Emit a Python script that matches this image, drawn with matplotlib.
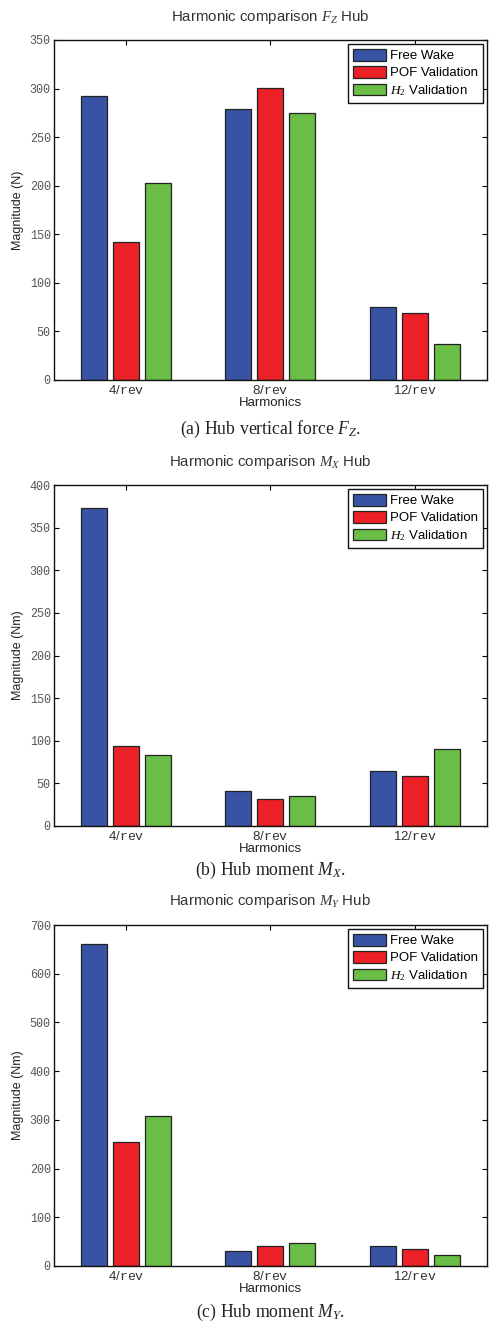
"""Harmonic comparison of hub loads: three stacked grouped-bar panels."""

import numpy as np
import matplotlib.pyplot as plt

harmonics = ["4/$\\mathtt{rev}$", "8/$\\mathtt{rev}$", "12/$\\mathtt{rev}$"]
series_names = ["Free Wake", "POF Validation", "$H_2$ Validation"]

fz_free_wake = [292, 279, 75]
fz_pof = [142, 301, 69]
fz_h2 = [203, 275, 37]

mx_free_wake = [373, 41, 65]
mx_pof = [94, 32, 59]
mx_h2 = [83, 35, 90]

my_free_wake = [661, 31, 41]
my_pof = [255, 42, 34]
my_h2 = [308, 48, 23]

panels = [
    ("$F_Z$", "Magnitude (N)", 350, 50, "(a) Hub vertical force $F_Z$.",
     [fz_free_wake, fz_pof, fz_h2]),
    ("$M_X$", "Magnitude (Nm)", 400, 50, "(b) Hub moment $M_X$.",
     [mx_free_wake, mx_pof, mx_h2]),
    ("$M_Y$", "Magnitude (Nm)", 700, 100, "(c) Hub moment $M_Y$.",
     [my_free_wake, my_pof, my_h2]),
]

colors = ["#3953a4", "#ec2027", "#6abd45"]

plt.rcParams["font.family"] = ["Liberation Sans", "DejaVu Sans"]
plt.rcParams["mathtext.fontset"] = "custom"
plt.rcParams["mathtext.rm"] = "Liberation Serif"
plt.rcParams["mathtext.it"] = "Liberation Serif:italic"
plt.rcParams["mathtext.tt"] = "Liberation Mono"

W, H = 490, 1322
fig = plt.figure(figsize=(W / 100, H / 100), dpi=100)

# axes pixel boxes (top, bottom) and text rows
ax_left, ax_right = 53.5, 487
boxes = [(40, 380), (485, 826), (925, 1266)]
title_y = [17, 462, 901]
caption_y = [429, 870, 1312]

x = np.arange(1, len(harmonics) + 1)
offsets = [-0.22, 0.0, 0.22]
bar_w = 0.18

for (sym, ylabel, ymax, ystep, caption, values), (top, bot), ty, cy in zip(
    panels, boxes, title_y, caption_y
):
    ax = fig.add_axes([
        ax_left / W, 1 - bot / H, (ax_right - ax_left) / W, (bot - top) / H
    ])
    for vals, name, color, off in zip(values, series_names, colors, offsets):
        ax.bar(x + off, vals, bar_w, color=color, edgecolor="#222222",
               linewidth=0.9, label=name, zorder=2)

    ax.set_xlim(0.5, 3.5)
    ax.set_ylim(0, ymax)
    ax.set_xticks(x)
    ax.set_xticklabels(harmonics, fontsize=9.5, color="#333333")
    ax.set_yticks(np.arange(0, ymax + 1, ystep))
    ax.set_yticklabels([str(v) for v in np.arange(0, ymax + 1, ystep)],
                       family="Liberation Mono", fontsize=8.5, color="#555555")
    ax.tick_params(direction="in", top=True, right=True, length=3.5, width=0.8, pad=3)
    ax.tick_params(axis="y", pad=2)
    for spine in ax.spines.values():
        spine.set_linewidth(1.0)
        spine.set_color("#111111")

    ax.set_xlabel("Harmonics", fontsize=9.5, color="#222222", labelpad=0)
    ax.set_ylabel(ylabel, fontsize=9, color="#222222", labelpad=4)

    leg = ax.legend(loc="upper right", fontsize=9.5, handlelength=2.5,
                    handleheight=0.95, handletextpad=0.3, borderpad=0.4,
                    labelspacing=0.28, borderaxespad=0.3, fancybox=False,
                    framealpha=1)
    leg.get_frame().set_edgecolor("#111111")
    leg.get_frame().set_linewidth(1.0)

    fig.text((ax_left + ax_right) / 2 / W, 1 - ty / H,
             f"Harmonic comparison {sym} Hub", ha="center", va="center",
             fontsize=10.8, color="#333333")
    fig.text((ax_left + ax_right) / 2 / W, 1 - cy / H, caption,
             ha="center", va="center", fontsize=12.8,
             family=["Liberation Serif", "DejaVu Serif"], color="#222222")

fig.savefig("out.png", dpi=100)
